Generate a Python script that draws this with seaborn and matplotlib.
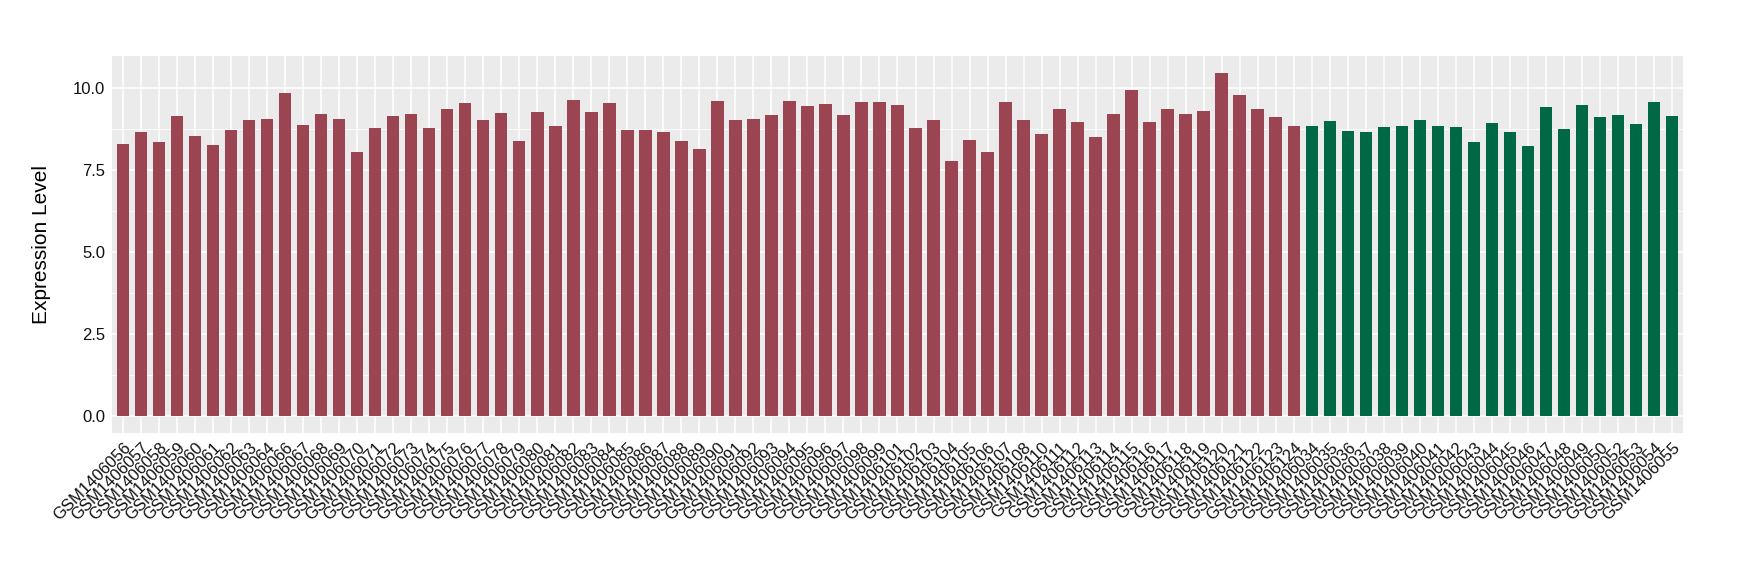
import numpy as np
import pandas as pd
import seaborn as sns
import matplotlib.pyplot as plt
from matplotlib.ticker import MultipleLocator

# sample ids (red group first, then green group)
red_ids = (["GSM14060%02d" % i for i in range(56, 65)]
           + ["GSM14060%02d" % i for i in range(66, 100)]
           + ["GSM1406%03d" % i for i in range(101, 109)]
           + ["GSM1406%03d" % i for i in range(110, 125)])
green_ids = (["GSM14060%02d" % i for i in range(34, 51)]
             + ["GSM14060%02d" % i for i in range(52, 56)])

red_vals = [8.29, 8.65, 8.35, 9.14, 8.53, 8.26, 8.72, 9.02, 9.05, 9.85,
            8.87, 9.20, 9.05, 8.04, 8.78, 9.14, 9.20, 8.78, 9.36, 9.54,
            9.02, 9.24, 8.38, 9.27, 8.84, 9.63, 9.27, 9.54, 8.72, 8.72,
            8.65, 8.38, 8.13, 9.60, 9.02, 9.05, 9.17, 9.60, 9.45, 9.51,
            9.17, 9.57, 9.57, 9.48, 8.78, 9.02, 7.77, 8.41, 8.04, 9.57,
            9.02, 8.59, 9.36, 8.96, 8.50, 9.20, 9.94, 8.96, 9.36, 9.20,
            9.30, 10.46, 9.79, 9.36, 9.11, 8.84]
green_vals = [8.84, 8.99, 8.68, 8.65, 8.81, 8.84, 9.02, 8.84, 8.81, 8.35,
              8.93, 8.65, 8.23, 9.42, 8.75, 9.48, 9.11, 9.17, 8.90, 9.57,
              9.14]

df = pd.DataFrame({
    "sample": red_ids + green_ids,
    "value": red_vals + green_vals,
    "group": ["a"] * len(red_ids) + ["b"] * len(green_ids),
})

sns.set_style("darkgrid", {"axes.facecolor": "#EBEBEB", "grid.color": "white"})
plt.rcParams["font.family"] = ["Liberation Sans", "DejaVu Sans"]

fig = plt.figure(figsize=(17.4, 5.8), dpi=100)
ax = fig.add_axes([0.0644, 0.253, 0.9028, 0.651])

sns.barplot(data=df, x="sample", y="value", hue="group",
            palette={"a": "#9B4452", "b": "#006845"},
            dodge=False, width=0.7, legend=False, ax=ax, saturation=1,
            linewidth=0, edgecolor="none")

n = len(df)
ax.set_xlim(-0.6, n - 1 + 0.6)
ax.set_ylim(-0.523, 10.983)
ax.yaxis.set_minor_locator(MultipleLocator(1.25))
ax.set_yticks([0, 2.5, 5.0, 7.5, 10.0])
ax.set_yticklabels(["0.0", "2.5", "5.0", "7.5", "10.0"])
ax.grid(which="major", color="white", linewidth=1.1)
ax.grid(which="minor", axis="y", color="white", linewidth=0.55)
ax.set_axisbelow(True)
for s in ax.spines.values():
    s.set_visible(False)

ax.tick_params(axis="both", which="major", length=3, width=0.8, color="#333333",
               labelcolor="#111111", labelsize=12, pad=2)
ax.tick_params(axis="y", which="minor", length=0)
plt.setp(ax.get_xticklabels(), rotation=45, ha="right", rotation_mode="anchor",
         fontsize=12)

ax.set_xlabel("")
ax.set_ylabel("Expression Level", fontsize=15, labelpad=16, color="#000000")

fig.savefig("out.png", dpi=100)
